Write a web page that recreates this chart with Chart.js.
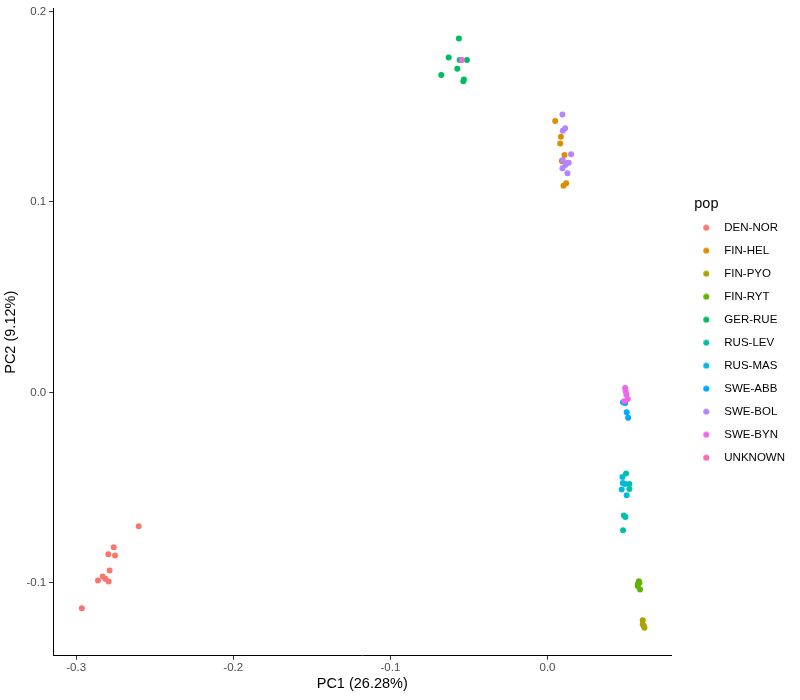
<!DOCTYPE html>
<html>
<head>
<meta charset="utf-8">
<script src="https://cdn.jsdelivr.net/npm/chart.js@4.4.1/dist/chart.umd.min.js"></script>
<style>
  html, body { margin: 0; padding: 0; background: #fff; }
  #wrap { width: 800px; height: 700px; }
</style>
</head>
<body>
<div id="wrap"><canvas id="myChart" width="800" height="700"></canvas></div>
<script>
// population labels (legend order) and ggplot hue colours
var pops = ["DEN-NOR", "FIN-HEL", "FIN-PYO", "FIN-RYT", "GER-RUE", "RUS-LEV", "RUS-MAS", "SWE-ABB", "SWE-BOL", "SWE-BYN", "UNKNOWN"];
var popColors = ["#F8766D", "#DB8E00", "#AEA200", "#64B200", "#00BD5C", "#00C1A7", "#00BADE", "#00A6FF", "#B385FF", "#EF67EB", "#FF63B6"];

// PC1 / PC2 scores
var denNorPC1 = [-0.2602, -0.2761, -0.2795, -0.2753, -0.2787, -0.2831, -0.2814, -0.2861, -0.2793, -0.2964];
var denNorPC2 = [-0.0703, -0.0813, -0.0850, -0.0856, -0.0935, -0.0967, -0.0979, -0.0988, -0.0993, -0.1133];
var finHelPC1 = [0.0049, 0.0085, 0.0081, 0.0108, 0.0091, 0.0119, 0.0119, 0.0102];
var finHelPC2 = [0.1425, 0.1342, 0.1307, 0.1246, 0.1215, 0.1203, 0.1098, 0.1085];
var finPyoPC1 = [0.0606, 0.0606, 0.0617, 0.0612];
var finPyoPC2 = [-0.1197, -0.1218, -0.1236, -0.1225];
var finRytPC1 = [0.0581, 0.0574, 0.0589, 0.0585, 0.0576];
var finRytPC2 = [-0.0991, -0.1017, -0.1035, -0.1000, -0.1005];
var gerRuePC1 = [-0.0564, -0.0629, -0.0559, -0.0513, -0.0574, -0.0676, -0.0532, -0.0536];
var gerRuePC2 = [0.1858, 0.1758, 0.1745, 0.1745, 0.1699, 0.1666, 0.1643, 0.1634];
var rusLevPC1 = [0.0500, 0.0521, 0.0521, 0.0486, 0.0496, 0.0481];
var rusLevPC2 = [-0.0426, -0.0481, -0.0507, -0.0647, -0.0654, -0.0724];
var rusMasPC1 = [0.0477, 0.0479, 0.0494, 0.0472, 0.0504];
var rusMasPC2 = [-0.0444, -0.0476, -0.0481, -0.0510, -0.0540];
var sweAbbPC1 = [0.0481, 0.0494, 0.0504, 0.0513];
var sweAbbPC2 = [-0.0052, -0.0056, -0.0105, -0.0133];
var sweBolPC1 = [0.0095, 0.0112, 0.0097, 0.0150, 0.0097, 0.0135, 0.0114, 0.0095, 0.0127];
var sweBolPC2 = [0.1459, 0.1386, 0.1374, 0.1250, 0.1220, 0.1206, 0.1194, 0.1176, 0.1150];
var sweBynPC1 = [0.0494, 0.0498, 0.0502, 0.0511, 0.0490, -0.0545];
var sweBynPC2 = [0.0023, 0.0005, -0.0012, -0.0035, -0.0047, 0.1745];
var unknownPC1 = [];
var unknownPC2 = [];

var xTicks = [-0.3, -0.2, -0.1, 0.0];
var yTicks = [-0.1, 0.0, 0.1, 0.2];

var allPC1 = [denNorPC1, finHelPC1, finPyoPC1, finRytPC1, gerRuePC1, rusLevPC1, rusMasPC1, sweAbbPC1, sweBolPC1, sweBynPC1, unknownPC1];
var allPC2 = [denNorPC2, finHelPC2, finPyoPC2, finRytPC2, gerRuePC2, rusLevPC2, rusMasPC2, sweAbbPC2, sweBolPC2, sweBynPC2, unknownPC2];

var FONT = "'Liberation Sans', Arial, Helvetica, sans-serif";

// small round swatch used as legend marker (dot sits left of the image centre)
function dotImage(color){
  var c = document.createElement('canvas');
  c.width = 20; c.height = 7;
  var g = c.getContext('2d');
  g.fillStyle = color;
  g.beginPath();
  g.arc(4.1, 3.5, 3, 0, Math.PI * 2);
  g.fill();
  return c;
}
var legendDots = popColors.map(dotImage);

var datasets = pops.map(function(p, i){
  return {
    label: p,
    data: allPC1[i].map(function(x, j){ return {x: x, y: allPC2[i][j]}; }),
    backgroundColor: popColors[i],
    borderColor: popColors[i],
    pointRadius: 3,
    pointBorderWidth: 0,
    pointStyle: 'circle',
    order: pops.length - i   // later groups drawn on top, like ggplot
  };
});

function fmt(v){ return (Math.abs(v) < 1e-9 ? 0 : v).toFixed(1); }

var ctx = document.getElementById("myChart").getContext('2d');
var myChart = new Chart(ctx, {
  type: 'scatter',
  data: { datasets: datasets },
  options: {
    responsive: false,
    animation: false,
    layout: { padding: { left: 2, right: 5, top: 7, bottom: 7 } },
    plugins: {
      tooltip: { enabled: false },
      legend: {
        position: 'right',
        align: 'center',
        title: {
          display: true,
          text: 'pop',
          position: 'start',
          color: '#000',
          font: { family: FONT, size: 14.5 },
          padding: { top: -28, bottom: -4 }
        },
        labels: {
          usePointStyle: true,
          pointStyleWidth: 12.75,
          boxHeight: 7,
          padding: 11.5,
          color: '#000',
          font: { family: FONT, size: 11.5 },
          sort: function(a, b){ return a.datasetIndex - b.datasetIndex; },
          generateLabels: function(chart){
            var items = Chart.defaults.plugins.legend.labels.generateLabels(chart);
            items.forEach(function(it){ it.pointStyle = legendDots[it.datasetIndex]; it.lineWidth = 0; });
            return items;
          }
        }
      }
    },
    scales: {
      x: {
        type: 'linear',
        min: -0.3146,
        max: 0.0788,
        afterBuildTicks: function(axis){ axis.ticks = xTicks.map(function(v){ return {value: v}; }); },
        ticks: { color: '#4D4D4D', font: { family: FONT, size: 11.5 }, padding: 1, callback: fmt, maxRotation: 0 },
        grid: { drawOnChartArea: false, drawTicks: true, tickLength: 4, color: '#333' },
        border: { display: true, color: '#000', width: 1 },
        title: { display: true, text: 'PC1 (26.28%)', color: '#000', font: { family: FONT, size: 14.5 }, padding: { top: 0, bottom: 0 } }
      },
      y: {
        type: 'linear',
        min: -0.1383,
        max: 0.2014,
        afterBuildTicks: function(axis){ axis.ticks = yTicks.map(function(v){ return {value: v}; }); },
        ticks: { color: '#4D4D4D', font: { family: FONT, size: 11.5, lineHeight: 1 }, padding: 3, callback: fmt },
        grid: { drawOnChartArea: false, drawTicks: true, tickLength: 4, color: '#333' },
        border: { display: true, color: '#000', width: 1 },
        title: { display: true, text: 'PC2 (9.12%)', color: '#000', font: { family: FONT, size: 14.5 }, padding: { top: 0, bottom: 4 } }
      },
      // empty strip between the panel and the legend
      gap: {
        type: 'linear',
        position: 'right',
        display: true,
        ticks: { display: false },
        grid: { display: false },
        border: { display: false },
        afterFit: function(s){ s.width = 23; }
      }
    }
  }
});
</script>
</body>
</html>
